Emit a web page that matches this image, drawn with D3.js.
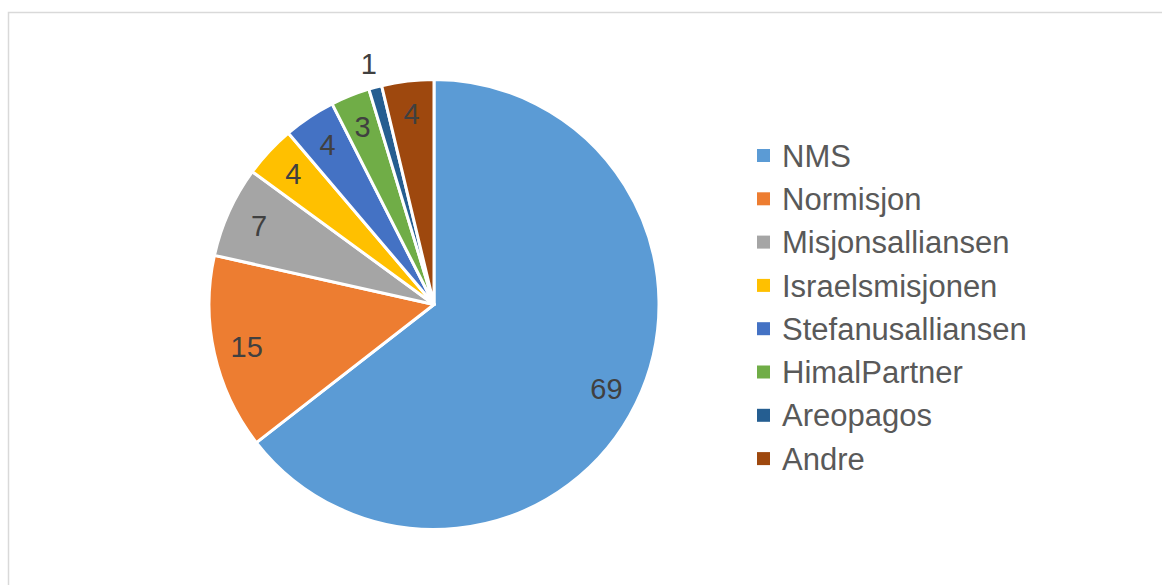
<!DOCTYPE html>
<html>
<head>
<meta charset="utf-8">
<script src="https://cdn.jsdelivr.net/npm/d3@7"></script>
<style>
  body { margin: 0; background: #fff; }
  svg { display: block; font-family: "Liberation Sans", Arial, sans-serif; }
</style>
</head>
<body>
<svg id="chart" width="1162" height="585"></svg>
<script>
var categories = ["NMS", "Normisjon", "Misjonsalliansen", "Israelsmisjonen",
    "Stefanusalliansen", "HimalPartner", "Areopagos", "Andre"];
var values = [69, 15, 7, 4, 4, 3, 1, 4];
var colors = ["#5B9BD5", "#ED7D31", "#A5A5A5", "#FFC000", "#4472C4", "#70AD47", "#255E91", "#9E480E"];

var width = 1162;
var height = 585;
var cx = 434, cy = 304.5, radius = 225;

var svg = d3.select("svg#chart");

// chart area frame (runs off the right and bottom edge)
svg.append("rect")
    .attr("x", 8.5)
    .attr("y", 12.5)
    .attr("width", 1200)
    .attr("height", 620)
    .attr("fill", "#fff")
    .attr("stroke", "#D9D9D9")
    .attr("stroke-width", 1.5);

var color = d3.scaleOrdinal().domain(categories).range(colors);

var pie = d3.pie()
    .value(d => d.value)
    .sort(null);

var data = categories.map((c, i) => ({ name: c, value: values[i] }));
var arcs = pie(data);

var arc = d3.arc().innerRadius(0).outerRadius(radius);
var labelArc = d3.arc().innerRadius(192).outerRadius(192);
var outsideArc = d3.arc().innerRadius(250).outerRadius(250);

var g = svg.append("g")
    .attr("transform", `translate(${cx},${cy})`);

g.selectAll("path")
    .data(arcs)
    .enter().append("path")
        .attr("d", arc)
        .attr("fill", d => color(d.data.name))
        .attr("stroke", "#fff")
        .attr("stroke-width", 3)
        .attr("stroke-linejoin", "round");

g.selectAll("text.label")
    .data(arcs)
    .enter().append("text")
        .attr("class", "label")
        .attr("transform", d => {
            // tiny slices get their label outside the pie
            let p = (d.endAngle - d.startAngle) < 0.1 ? outsideArc.centroid(d) : labelArc.centroid(d);
            return `translate(${p[0]},${p[1]})`;
        })
        .attr("text-anchor", "middle")
        .attr("dy", "0.36em")
        .attr("font-size", 29)
        .attr("fill", "#404040")
        .text(d => d.data.value);

var legend = svg.append("g")
    .attr("transform", "translate(757,155.5)");

var item = legend.selectAll("g")
    .data(categories)
    .enter().append("g")
        .attr("transform", (d, i) => `translate(0,${i * 43.3})`);

item.append("rect")
    .attr("x", 0)
    .attr("y", -6.5)
    .attr("width", 13)
    .attr("height", 13)
    .attr("fill", d => color(d));

item.append("text")
    .attr("x", 25)
    .attr("dy", "0.36em")
    .attr("font-size", 31)
    .attr("fill", "#595959")
    .text(d => d);
</script>
</body>
</html>
